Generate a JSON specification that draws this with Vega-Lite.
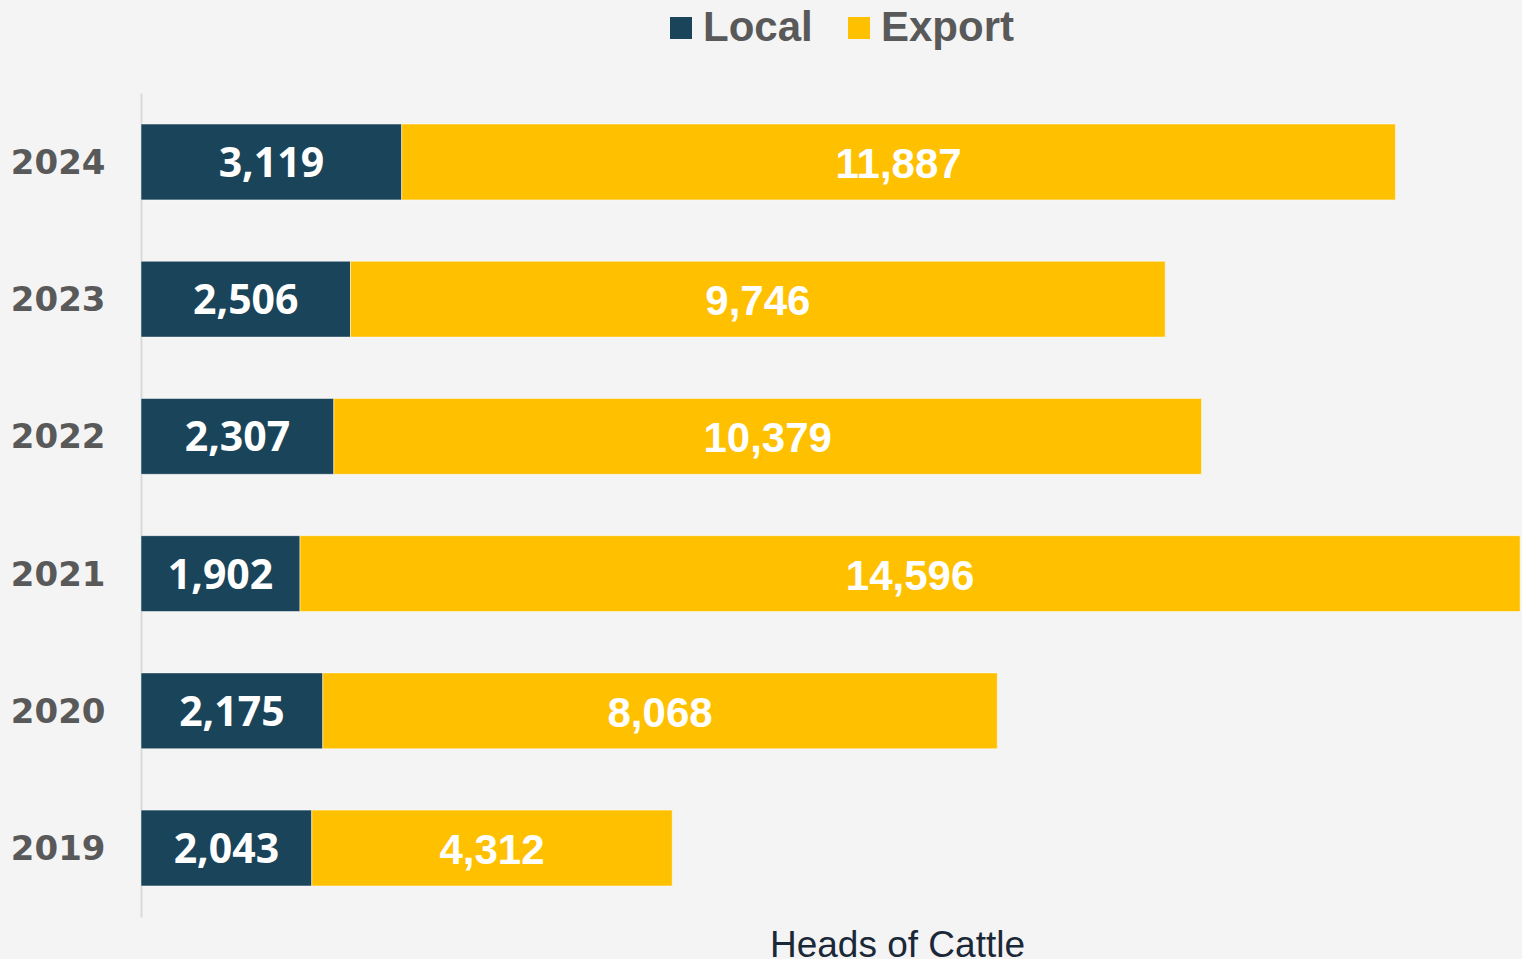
{
  "$schema": "https://vega.github.io/schema/vega-lite/v6.json",
  "autosize": "none",
  "width": 1381,
  "height": 824,
  "padding": {"left": 141, "top": 93, "right": 0, "bottom": 42},
  "background": "#F4F4F4",
  "config": {"view": {"stroke": null}},
  "data": {
    "values": [
      {"year": "2024", "series": "Local", "value": 3119},
      {"year": "2024", "series": "Export", "value": 11887},
      {"year": "2023", "series": "Local", "value": 2506},
      {"year": "2023", "series": "Export", "value": 9746},
      {"year": "2022", "series": "Local", "value": 2307},
      {"year": "2022", "series": "Export", "value": 10379},
      {"year": "2021", "series": "Local", "value": 1902},
      {"year": "2021", "series": "Export", "value": 14596},
      {"year": "2020", "series": "Local", "value": 2175},
      {"year": "2020", "series": "Export", "value": 8068},
      {"year": "2019", "series": "Local", "value": 2043},
      {"year": "2019", "series": "Export", "value": 4312}
    ]
  },
  "encoding": {
    "y": {
      "field": "year", "type": "nominal", "sort": "descending",
      "scale": {"paddingInner": 0.447, "paddingOuter": 0.226},
      "axis": {
        "title": null, "ticks": false, "domainColor": "#D9D9D9", "domainWidth": 2,
        "labelFont": "DejaVu Sans", "labelFontWeight": "bold", "labelFontSize": 34,
        "labelColor": "#595959", "labelPadding": 36, "labelOffset": 2
      }
    }
  },
  "layer": [
    {
      "mark": {"type": "bar", "stroke": "#ffffff", "strokeWidth": 1, "strokeOpacity": 0.5},
      "encoding": {
        "x": {
          "field": "value", "type": "quantitative", "stack": "zero",
          "scale": {"domain": [0, 16520], "nice": false, "zero": true},
          "axis": {
            "title": "Heads of Cattle", "labels": false, "ticks": false, "domain": false, "grid": false,
            "titleFont": "Liberation Sans", "titleFontSize": 37, "titleFontWeight": "normal",
            "titleColor": "#1B2838", "titleX": 756, "titleY": 39, "titleBaseline": "alphabetic",
            "titleAnchor": "middle", "titleAlign": "center"
          }
        },
        "color": {
          "field": "series", "type": "nominal",
          "scale": {"domain": ["Local", "Export"], "range": ["#1A4459", "#FFC000"]},
          "legend": {
            "title": null, "orient": "none", "direction": "horizontal",
            "legendX": 519, "legendY": -86, "padding": 0,
            "symbolType": "square", "symbolSize": 484, "symbolStrokeWidth": 0,
            "labelFont": "Liberation Sans", "labelFontWeight": "bold", "labelFontSize": 42,
            "labelColor": "#595959", "labelOffset": 1, "columnPadding": 25
          }
        },
        "order": {"field": "series", "sort": "descending"}
      }
    },
    {
      "mark": {"type": "text", "color": "#FFFFFF", "font": "Open Sans", "fontWeight": "bold", "fontSize": 41, "baseline": "middle", "align": "center", "dy": 3},
      "encoding": {
        "x": {"field": "value", "type": "quantitative", "stack": "zero", "bandPosition": 0.5},
        "detail": {"field": "series"},
        "order": {"field": "series", "sort": "descending"},
        "opacity": {"condition": {"test": "datum.series === 'Local'", "value": 1}, "value": 0},
        "text": {"field": "value", "type": "quantitative", "format": ","}
      }
    },
    {
      "mark": {"type": "text", "color": "#FFFFFF", "font": "Liberation Sans", "fontWeight": "bold", "fontSize": 42, "baseline": "middle", "align": "center", "dy": 3},
      "encoding": {
        "x": {"field": "value", "type": "quantitative", "stack": "zero", "bandPosition": 0.5},
        "detail": {"field": "series"},
        "order": {"field": "series", "sort": "descending"},
        "opacity": {"condition": {"test": "datum.series === 'Export'", "value": 1}, "value": 0},
        "text": {"field": "value", "type": "quantitative", "format": ","}
      }
    }
  ]
}
